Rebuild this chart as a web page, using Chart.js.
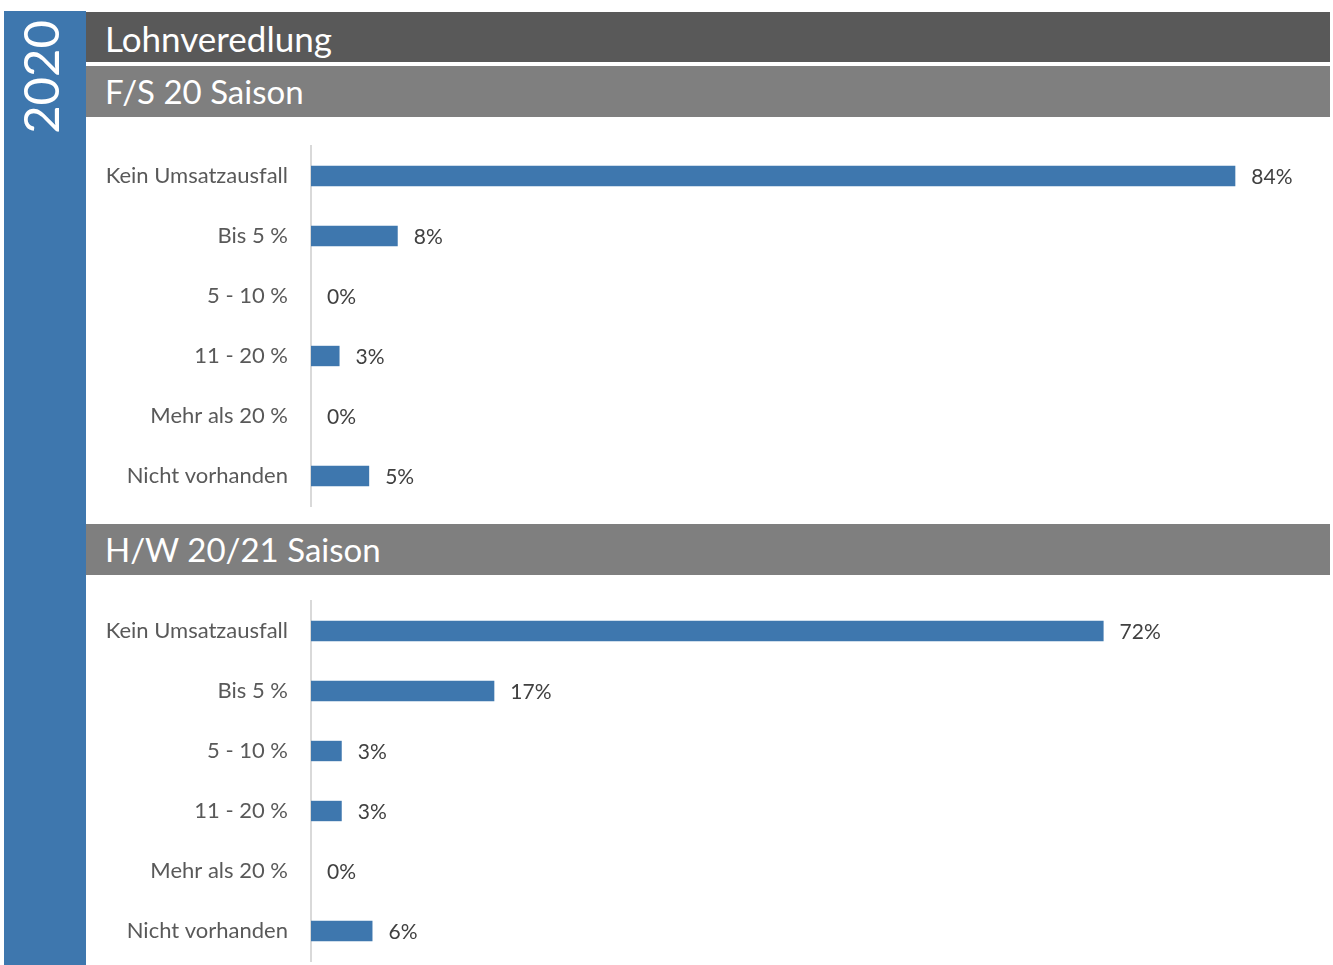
<!DOCTYPE html>
<html>
<head>
<meta charset="utf-8">
<script src="https://cdn.jsdelivr.net/npm/chart.js@4/dist/chart.umd.min.js"></script>
<style>
  body { margin: 0; background: #fff; font-family: Lato, "Open Sans", sans-serif; }
  #page { position: relative; width: 1333px; height: 965px; overflow: hidden; }
  .side { position: absolute; left: 4px; top: 11px; width: 82px; height: 954px; background: #3e77ae; }
  .year { position: absolute; left: 40px; top: 77px; color: #fff; font-size: 49px;
          transform: translate(-50%, -50%) rotate(-90deg); white-space: nowrap; line-height: 1; }
  .bar { position: absolute; left: 86px; width: 1244px; color: #fff; font-size: 33px;
         box-sizing: border-box; padding-left: 19px; line-height: 51px; }
  .dark { top: 12px; height: 50px; background: #595959; line-height: 52px; font-size: 35px; }
  .gray { height: 51px; background: #7f7f7f; }
  .chartbox { position: absolute; left: 86px; width: 1244px; }
</style>
</head>
<body>
<div id="page">
  <div class="side"></div>
  <div class="year">2020</div>
  <div class="bar dark">Lohnveredlung</div>
  <div class="bar gray" style="top:66px">F/S 20 Saison</div>
  <div class="chartbox" style="top:136px;height:380px"><canvas id="chart-fs"></canvas></div>
  <div class="bar gray" style="top:524px">H/W 20/21 Saison</div>
  <div class="chartbox" style="top:591px;height:380px"><canvas id="chart-hw"></canvas></div>
</div>
<script>
const categories = ['Kein Umsatzausfall', 'Bis 5 %', '5 - 10 %', '11 - 20 %', 'Mehr als 20 %', 'Nicht vorhanden'];
const fsValues = [84.2, 7.9, 0, 2.6, 0, 5.3];
const hwValues = [72.2, 16.7, 2.8, 2.8, 0, 5.6];

const barColor = '#3e77ae';
const fontFamily = 'Lato, "Open Sans", sans-serif';

// draws the "84%" style labels right of each bar
const valueLabels = {
    id: 'valueLabels',
    afterDatasetsDraw(chart) {
        const ctx = chart.ctx;
        const meta = chart.getDatasetMeta(0);
        ctx.save();
        ctx.font = '21px ' + fontFamily;
        ctx.fillStyle = '#404040';
        ctx.textAlign = 'left';
        ctx.textBaseline = 'middle';
        meta.data.forEach((bar, i) => {
            const v = chart.data.datasets[0].data[i];
            ctx.fillText(Math.round(v) + '%', bar.x + 16, bar.y + 1);
        });
        ctx.restore();
    }
};

function makeChart(id, values) {
    const ctx = document.getElementById(id).getContext('2d');
    return new Chart(ctx, {
        type: 'bar',
        data: {
            labels: categories,
            datasets: [{
                data: values,
                backgroundColor: barColor,
                borderWidth: 0,
                categoryPercentage: 1,
                barPercentage: 0.34
            }]
        },
        options: {
            indexAxis: 'y',
            responsive: true,
            maintainAspectRatio: false,
            animation: false,
            layout: { padding: { top: 10, bottom: 10, right: 31, left: 0 } },
            plugins: { legend: { display: false }, tooltip: { enabled: false } },
            scales: {
                x: { display: false, min: 0, max: 90 },
                y: {
                    grid: { display: false, drawTicks: false },
                    border: { display: true, color: '#d9d9d9', width: 2 },
                    ticks: {
                        color: '#595959',
                        padding: 23,
                        font: { family: fontFamily, size: 22 }
                    },
                    afterFit(scale) {
                        scale.width = 225;
                        scale.paddingTop = 0;
                        scale.paddingBottom = 0;
                    }
                }
            }
        },
        plugins: [valueLabels]
    });
}

makeChart('chart-fs', fsValues);
makeChart('chart-hw', hwValues);
</script>
</body>
</html>
